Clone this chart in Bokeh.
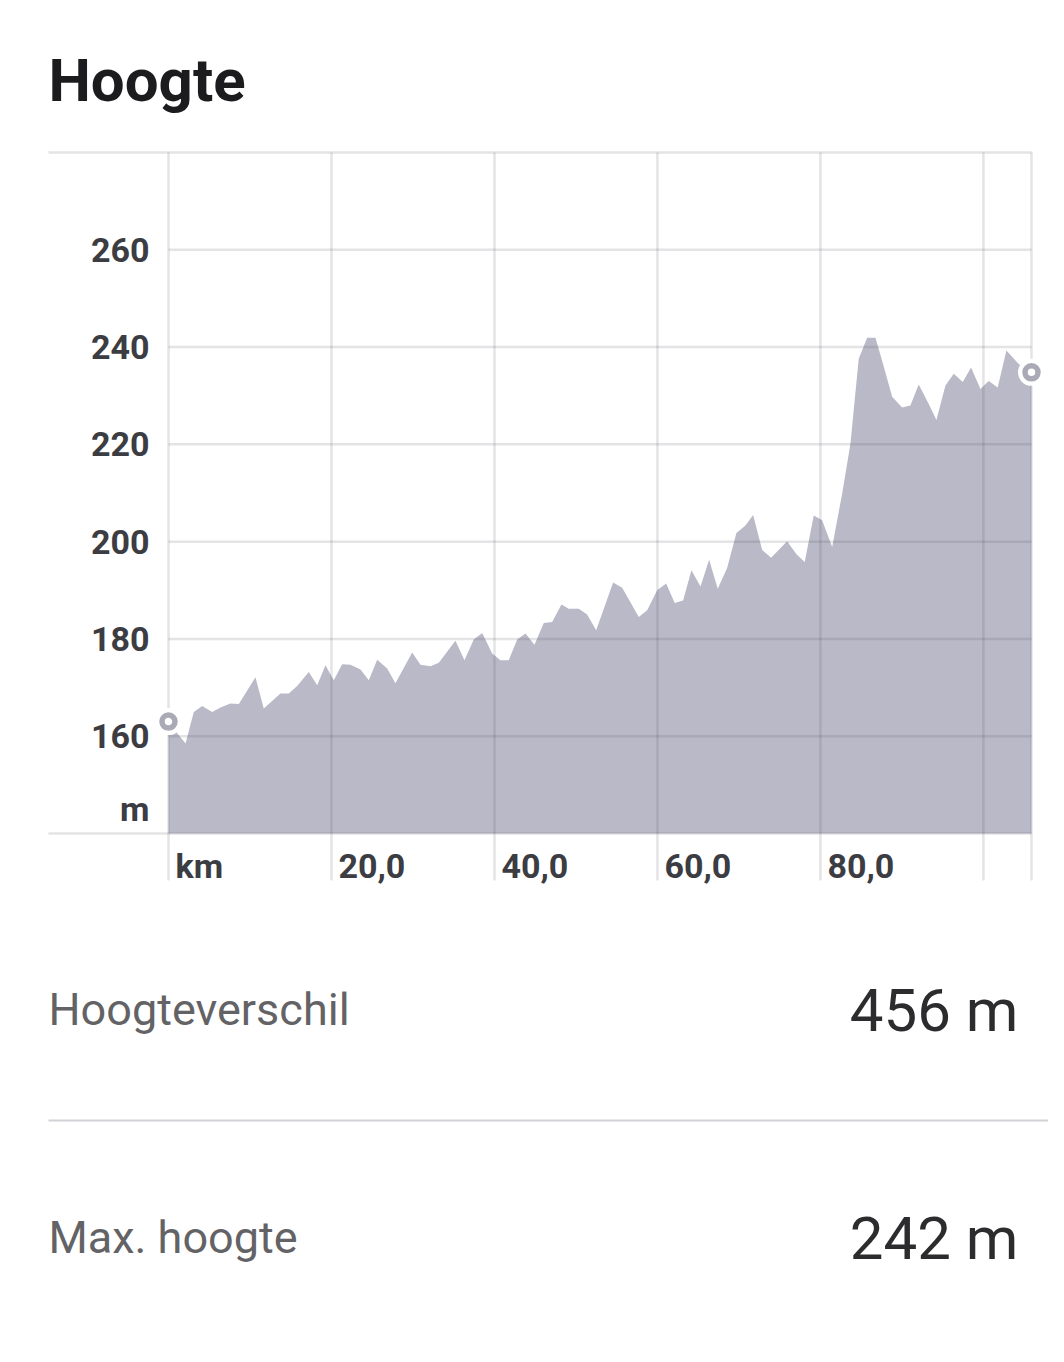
from bokeh.plotting import figure
from bokeh.models import Range1d, LabelSet, ColumnDataSource
from bokeh.core.properties import value
from bokeh.embed import file_html
from bokeh.resources import INLINE

# ---------------- data ----------------
km = [0, 1.07, 2.09, 3.10, 4.13, 5.36, 6.38, 7.61, 8.63, 10.67, 11.69, 13.74,
      14.76, 15.79, 17.21, 18.25, 19.26, 20.28, 21.31, 22.33, 23.56, 24.58,
      25.61, 26.83, 27.85, 29.90, 30.92, 32.15, 33.17, 35.21, 36.32, 37.46,
      38.49, 39.72, 40.74, 41.75, 42.79, 43.80, 44.91, 46.05, 47.08, 48.22,
      49.12, 50.34, 51.37, 52.48, 54.56, 55.67, 57.71, 58.74, 59.96, 61.07,
      62.12, 63.15, 64.17, 65.28, 66.34, 67.40, 68.55, 69.69, 70.80, 71.74,
      72.85, 73.95, 75.91, 77.06, 78.07, 79.18, 80.21, 81.44, 82.66, 83.68,
      84.70, 85.73, 86.75, 87.57, 88.80, 90.02, 91.04, 92.06, 93.29, 94.23,
      95.34, 96.36, 97.46, 98.49, 99.63, 100.65, 101.75, 102.82, 104.33, 105.9]

elevation = [163.0, 160.6, 158.5, 165.0, 166.2, 165.0, 165.9, 166.7, 166.6,
             172.1, 165.7, 168.8, 168.8, 170.3, 173.2, 170.5, 174.6, 171.5,
             174.8, 174.7, 173.7, 171.5, 175.7, 173.9, 170.9, 177.2, 174.7,
             174.4, 175.1, 179.6, 175.6, 179.9, 181.2, 177.0, 175.6, 175.6,
             179.9, 181.1, 178.8, 183.3, 183.5, 187.1, 186.2, 186.2, 185.0,
             181.8, 191.6, 190.5, 184.5, 185.9, 190.0, 191.4, 187.4, 187.9,
             194.1, 190.8, 196.3, 190.3, 194.6, 201.8, 203.3, 205.5, 198.3,
             196.7, 200.1, 197.4, 195.8, 205.4, 204.4, 198.9, 209.8, 220.1,
             237.6, 241.9, 241.9, 237.2, 229.8, 227.6, 228.0, 232.3, 228.3,
             225.0, 232.1, 234.5, 232.8, 235.8, 231.4, 233.0, 231.7, 239.3,
             236.5, 234.8]

y_ticks = [160, 180, 200, 220, 240, 260]
y_tick_labels = ["160", "180", "200", "220", "240", "260"]
y_unit_tick = 145
y_unit_label = "m"
x_ticks = [0, 20, 40, 60, 80, 100]
x_tick_labels = ["km", "20,0", "40,0", "60,0", "80,0", ""]

title_text = "Hoogte"
stat_labels = ["Hoogteverschil", "Max. hoogte"]
stat_values = ["456 m", "242 m"]

X_MIN, X_MAX = 0, km[-1]
Y_MIN, Y_MAX = 140, 280

# ---------------- layout (canvas pixels -> data) ----------------
W, H = 1048, 1340
PLOT_L, PLOT_R = 168, 1031   # px where km 0 and the last km sit
PLOT_T, PLOT_B = 152, 833    # px of Y_MAX and Y_MIN
km_per_px = (X_MAX - X_MIN) / (PLOT_R - PLOT_L)
m_per_px = (Y_MAX - Y_MIN) / (PLOT_B - PLOT_T)


def dx(px):
    return X_MIN + (px - PLOT_L) * km_per_px


def dy(py):
    return Y_MIN + (PLOT_B - py) * m_per_px


p = figure(width=W, height=H, output_backend="svg", toolbar_location=None,
           x_range=Range1d(dx(0), dx(W)), y_range=Range1d(dy(H), dy(0)),
           x_axis_location=None, y_axis_location=None,
           min_border=0, min_border_left=0, min_border_right=0,
           min_border_top=0, min_border_bottom=0)
p.outline_line_color = None
p.background_fill_color = "white"
p.border_fill_color = "white"
p.xgrid.visible = False
p.ygrid.visible = False

# elevation area
p.varea(x=km, y1=Y_MIN, y2=elevation, fill_color="#b9b9c7", fill_alpha=1.0)

# grid lines (over the area)
GRID = dict(line_color="#4b4b5a", line_alpha=0.15, line_width=2.5)
p.segment(x0=[X_MIN] * len(y_ticks), y0=y_ticks, x1=[X_MAX] * len(y_ticks),
          y1=y_ticks, **GRID)
p.segment(x0=[dx(48)] * 2, y0=[Y_MIN, Y_MAX], x1=[X_MAX] * 2, y1=[Y_MIN, Y_MAX], **GRID)
vx = x_ticks + [X_MAX]
p.segment(x0=vx, y0=[Y_MAX] * len(vx), x1=vx, y1=[dy(880)] * len(vx), **GRID)


def add_text(xs, ys, texts, size, color, align="left", baseline="alphabetic",
             style="normal", x_offset=0):
    src = ColumnDataSource(dict(x=xs, y=ys, text=texts))
    p.add_layout(LabelSet(x="x", y="y", text="text", source=src, x_offset=x_offset,
                          text_align=align, text_baseline=baseline,
                          text_font=value("Roboto"), text_font_style=style,
                          text_font_size=size, text_color=color))


# y tick labels (right aligned left of the plot)
add_text([dx(149)] * (len(y_ticks) + 1), [y_unit_tick] + y_ticks,
         [y_unit_label] + y_tick_labels, "34px", "#3c3c43", align="right",
         baseline="middle", style="bold")

# x tick labels (left aligned just right of each line)
add_text(x_ticks, [dy(877)] * len(x_ticks), x_tick_labels, "34px", "#3c3c43",
         style="bold", x_offset=7)

# start / end markers
mx = [km[0], km[-1]]
my = [elevation[0], elevation[-1]]
p.scatter(x=mx, y=my, size=27, fill_color="white", line_color=None)
p.scatter(x=mx, y=my, size=13, fill_color="white", line_color="#aaaab6", line_width=5.5)

# title
add_text([dx(48)], [dy(100)], [title_text], "60px", "#1c1c1e", style="bold")

# stats
add_text([dx(48)] * 2, [dy(1024), dy(1252)], stat_labels, "45px", "#636366")
add_text([dx(1018)] * 2, [dy(1030), dy(1258)], stat_values, "60px", "#2c2c2e",
         align="right")

p.segment(x0=[dx(48)], y0=[dy(1120)], x1=[dx(W + 10)], y1=[dy(1120)],
          line_color="#d1d1d6", line_width=2)

open("out.html", "w").write(file_html(p, INLINE))
